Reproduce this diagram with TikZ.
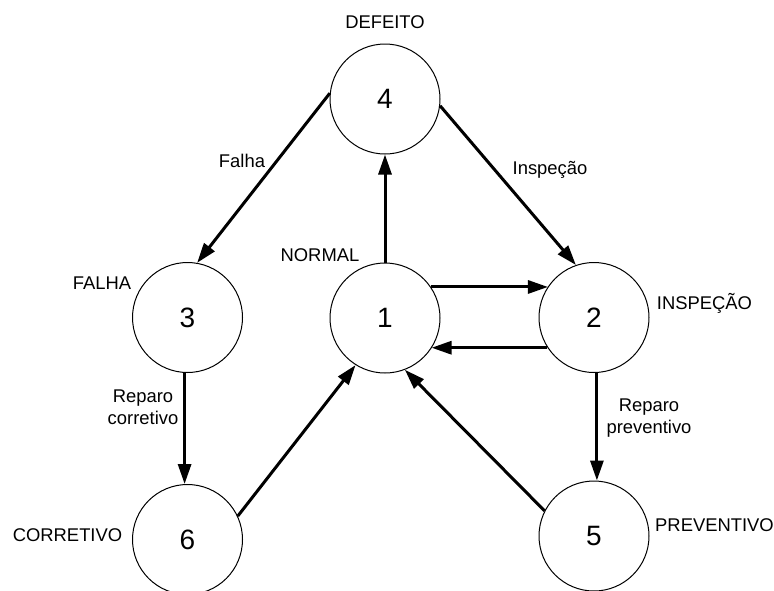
\documentclass[tikz,border=0pt]{standalone}
\usepackage{fontspec}
\setmainfont{Liberation Sans}
\usetikzlibrary{arrows.meta}
\begin{document}
\begin{tikzpicture}[x=1pt,y=-1pt,
  state/.style={circle,draw,line width=1pt,minimum size=110pt,inner sep=0pt,
    font=\fontsize{28}{30}\selectfont},
  lbl/.style={inner sep=0pt,font=\fontsize{18.4}{22}\selectfont},
  edge/.style={line width=3pt,-{Triangle[length=20pt,width=13pt]}}]
\useasboundingbox (0,0) rectangle (774,590);
\node[state] (c4) at (385,99) {4};
\node[state] (c3) at (187.5,317.5) {3};
\node[state] (c1) at (385,318) {1};
\node[state] (c2) at (594,317.5) {2};
\node[state] (c6) at (187.5,539.5) {6};
\node[state] (c5) at (594,536) {5};
% state labels
\node[lbl,anchor=base] (l4) at (385,28.3) {DEFEITO};
\node[lbl,anchor=base] (l1) at (320,261.7) {NORMAL};
\node[lbl,anchor=base] (l3) at (102,289) {FALHA};
\node[lbl,anchor=base west] (l2) at (656.7,309.3) {INSPEÇÃO};
\node[lbl,anchor=base] (l6) at (67.5,541.7) {CORRETIVO};
\node[lbl,anchor=base west] (l5) at (655,531.7) {PREVENTIVO};
% edge labels
\node[lbl,anchor=base] (e43) at (242,167.3) {Falha};
\node[lbl,anchor=base] (e42) at (550,174) {Inspeção};
\node[lbl,align=center] (e36) at (143,407.5) {Reparo\\corretivo};
\node[lbl,align=center] (e25) at (649,417.8) {Reparo\\preventivo};
% connectors
\draw[edge] (c4.174) -- (c3.80);
\draw[edge] (c4.-7) -- (c2.109);
\draw[edge] (c1.north) -- (c4.south);
\draw[edge] (c1.34) -- (c1.34 -| c2.146);
\draw[edge] (c2.213) -- (c2.213 -| c1.-33);
\draw[edge] (c3.267) -- (c3.267 |- c6.north);
\draw[edge] (c6.25) -- (c1.238);
\draw[edge] (c5.153) -- (c1.-69);
\draw[edge] (c2.273) -- (c2.273 |- c5.north);
\end{tikzpicture}
\end{document}
